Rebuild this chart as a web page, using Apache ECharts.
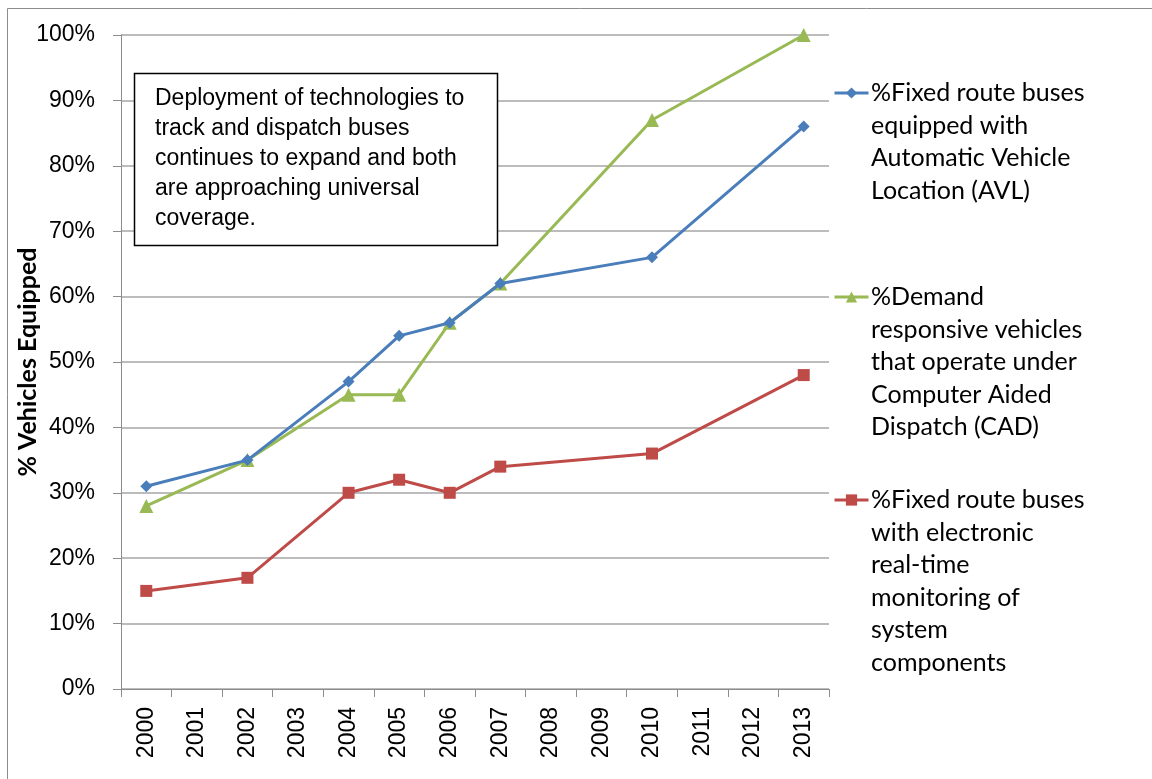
<!DOCTYPE html>
<html>
<head>
<meta charset="utf-8">
<script src="https://cdn.jsdelivr.net/npm/echarts@6/dist/echarts.min.js"></script>
<style>
  html, body { margin: 0; padding: 0; background: #fff; }
  #main { width: 1152px; height: 779px; }
</style>
</head>
<body>
<div id="main"></div>
<script>
const years = ["2000", "2001", "2002", "2003", "2004", "2005", "2006", "2007", "2008", "2009", "2010", "2011", "2012", "2013"];
const avl = [31, null, 35, null, 47, 54, 56, 62, null, null, 66, null, null, 86];
const cad = [28, null, 35, null, 45, 45, 56, 62, null, null, 87, null, null, 100];
const realTime = [15, null, 17, null, 30, 32, 30, 34, null, null, 36, null, null, 48];
const yTicks = [0, 10, 20, 30, 40, 50, 60, 70, 80, 90, 100];

const names = [
  "%Fixed route buses\nequipped with\nAutomatic Vehicle\nLocation (AVL)",
  "%Demand\nresponsive vehicles\nthat operate under\nComputer Aided\nDispatch (CAD)",
  "%Fixed route buses\nwith electronic\nreal-time\nmonitoring of\nsystem\ncomponents"
];
const note = "Deployment of technologies to\ntrack and dispatch buses\ncontinues to expand and both\nare approaching universal\ncoverage.";

const LH = 32.5;
const legendIconY = [93, 297, 500];
const colors = ["#4A7EBB", "#98B954", "#BE4B48"];
const symbols = ["diamond", "triangle", "rect"];
const sizes = [12, 14, 12];
const values = [avl, cad, realTime];

let chartDom = document.getElementById("main");
let myChart = echarts.init(chartDom);

// legend icons from echarts, the wrapped labels as text next to them
const legends = names.map(function (n, i) {
  return {
    left: 833,
    top: legendIconY[i] - 7,
    padding: 0,
    itemWidth: 34,
    itemHeight: 14,
    selectedMode: false,
    lineStyle: { width: 3 },
    formatter: function () { return ""; },
    data: [n]
  };
});
const legendTexts = names.map(function (n, i) {
  return {
    type: "text",
    left: 871,
    top: legendIconY[i] - LH / 2,
    style: {
      text: n,
      fontFamily: "Lato",
      fontSize: 25,
      lineHeight: LH,
      fill: "#000"
    }
  };
});

let option = {
  animation: false,
  backgroundColor: "#fff",
  legend: legends,
  grid: {
    left: 121,
    top: 35,
    width: 708,
    height: 654,
    containLabel: false,
    outerBoundsMode: "none"
  },
  xAxis: {
    type: "category",
    data: years,
    boundaryGap: true,
    axisLine: { lineStyle: { color: "#8c8c8c", width: 1 } },
    axisTick: { show: true, length: 8, lineStyle: { color: "#8c8c8c" } },
    axisLabel: {
      rotate: 90,
      margin: 18,
      interval: 0,
      fontFamily: "Liberation Sans",
      fontSize: 23,
      color: "#000"
    },
    splitLine: { show: false }
  },
  yAxis: {
    type: "value",
    min: 0,
    max: 100,
    interval: 10,
    name: "% Vehicles Equipped",
    nameLocation: "middle",
    nameGap: 81,
    nameMoveOverlap: false,
    nameTextStyle: {
      fontFamily: "Lato",
      fontWeight: "bold",
      fontSize: 25,
      color: "#000"
    },
    axisLine: { show: true, lineStyle: { color: "#8c8c8c", width: 1 } },
    axisTick: { show: true, length: 8, lineStyle: { color: "#8c8c8c" } },
    axisLabel: {
      margin: 26,
      fontFamily: "Liberation Sans",
      fontSize: 23,
      color: "#000",
      formatter: function (v) { return yTicks.indexOf(v) >= 0 ? v + "%" : ""; }
    },
    splitLine: { show: true, lineStyle: { color: "#a6a6a6", width: 1.5 } }
  },
  series: names.map(function (n, i) {
    return {
      name: n,
      type: "line",
      data: values[i],
      connectNulls: true,
      symbol: symbols[i],
      symbolSize: sizes[i],
      lineStyle: { color: colors[i], width: 3 },
      itemStyle: { color: colors[i] },
      z: 3 - i
    };
  }),
  graphic: [
    {
      type: "rect",
      z: -10,
      silent: true,
      shape: { x: 7.5, y: 8.5, width: 1200, height: 800 },
      style: { fill: null, stroke: "#8c8c8c", lineWidth: 1 }
    },
    {
      type: "rect",
      z: 100,
      shape: { x: 134.5, y: 73.5, width: 363, height: 172 },
      style: { fill: "#fff", stroke: "#000", lineWidth: 1.5 }
    },
    {
      type: "text",
      left: 155,
      top: 84,
      z: 101,
      style: {
        text: note,
        fontFamily: "Liberation Sans",
        fontSize: 23,
        lineHeight: 30,
        fill: "#000"
      }
    }
  ].concat(legendTexts)
};
myChart.setOption(option);
</script>
</body>
</html>
